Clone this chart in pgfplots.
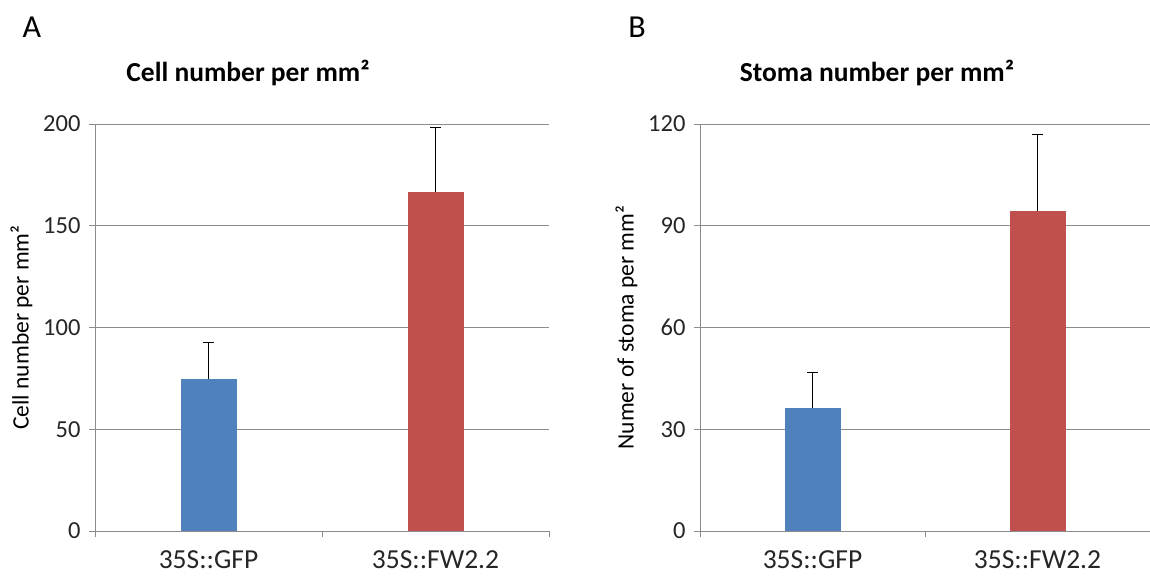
\documentclass[border=0pt]{standalone}
\usepackage{pgfplots}
\pgfplotsset{compat=1.18}
\usepackage{fontspec}
\setmainfont{Carlito}
\definecolor{barblue}{HTML}{4F81BD}
\definecolor{barred}{HTML}{C0504D}
\definecolor{gridgray}{HTML}{8C8C8C}
\pgfplotsset{
  panel/.style={
    anchor=south west, scale only axis, height=407pt,
    xmin=-0.5, xmax=1.5, ymin=0,
    axis lines=left, axis line style={-, gridgray, line width=0.8pt},
    ymajorgrids, grid style={gridgray, line width=0.8pt},
    tick align=outside, major tick length=6pt,
    tick style={gridgray, line width=0.8pt},
    xtick={-0.5,0.5,1.5}, xticklabels={},
    extra x ticks={0,1}, extra x tick labels={35S::GFP,35S::FW2.2},
    extra x tick style={major tick length=0pt, xticklabel style={yshift=-16pt, font=\fontsize{27.5}{30}\selectfont}},
    /pgf/number format/assume math mode=true,
    ticklabel style={font=\fontsize{24.5}{27}\selectfont, text=black!85},
    yticklabel style={xshift=-5pt},
    ylabel style={font=\fontsize{23.5}{26}\selectfont, text=black},
    ylabel shift=4pt,
    ybar, bar width=56pt, bar shift=0pt,
    error bars/y dir=plus, error bars/y explicit,
    error bars/error bar style={black, line width=0.8pt},
    error bars/error mark options={rotate=90, mark size=5.5pt, black, line width=0.8pt},
  }
}
\begin{document}
\begin{tikzpicture}[x=1pt,y=1pt]
\path[use as bounding box] (0,0) rectangle (1150,578);
\node[font=\fontsize{32}{34}\selectfont] at (32,551) {A};
\node[font=\fontsize{32}{34}\selectfont] at (637,551) {B};
\node[font=\fontsize{27.5}{30}\selectfont\bfseries] at (248,505) {Cell number per mm²};
\node[font=\fontsize{27.5}{30}\selectfont\bfseries] at (877,505) {Stoma number per mm²};
\begin{axis}[panel, at={(95pt,47pt)}, width=454pt, ymax=200, ytick={0,50,100,150,200},
  ylabel={Cell number per mm²}]
\addplot[fill=barblue, draw=none] coordinates {(0,74.7) +- (0,18.2)};
\addplot[fill=barred, draw=none] coordinates {(1,166.6) +- (0,31.9)};
\end{axis}
\begin{axis}[panel, at={(700pt,47pt)}, width=450pt, ymax=120, ytick={0,30,60,90,120},
  ylabel={Numer of stoma per mm²}]
\addplot[fill=barblue, draw=none] coordinates {(0,36.3) +- (0,10.6)};
\addplot[fill=barred, draw=none] coordinates {(1,94.3) +- (0,22.7)};
\end{axis}
\end{tikzpicture}
\end{document}
